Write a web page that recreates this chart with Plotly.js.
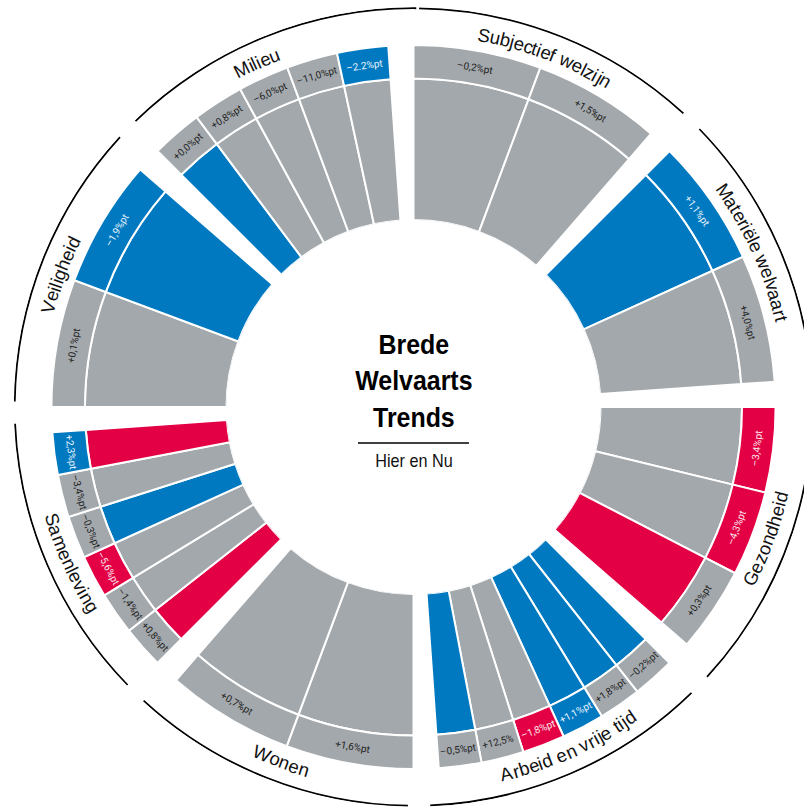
<!DOCTYPE html>
<html><head><meta charset="utf-8">
<script src="https://cdn.plot.ly/plotly-3.0.1.min.js"></script>
<style>html,body{margin:0;padding:0;overflow:hidden;background:#fff}#chart{width:827px;height:814px}</style>
</head><body><div id="chart"></div>
<script>
// ---------------- data ----------------
const categories = ["Subjectief welzijn","Materiële welvaart","Gezondheid","Arbeid en vrije tijd","Wonen","Samenleving","Veiligheid","Milieu"];
const barsPerCategory = [2,2,3,6,2,6,2,5];
// colour of the inner wedge (trend) per indicator, clockwise
const wedgeStatus = [
  "grijs","grijs",
  "blauw","grijs",
  "grijs","grijs","rood",
  "blauw","blauw","blauw","grijs","grijs","blauw",
  "grijs","grijs",
  "rood","grijs","grijs","blauw","grijs","rood",
  "grijs","blauw",
  "blauw","grijs","grijs","grijs","grijs"
];
// colour of the outer cell per indicator
const cellStatus = [
  "grijs","grijs",
  "blauw","grijs",
  "rood","rood","grijs",
  "grijs","grijs","blauw","rood","grijs","grijs",
  "grijs","grijs",
  "grijs","grijs","rood","grijs","grijs","blauw",
  "grijs","blauw",
  "grijs","grijs","grijs","grijs","blauw"
];
const cellLabels = [
  "–0,2%pt","+1,5%pt",
  "+1,1%pt","+4,0%pt",
  "–3,4%pt","–4,3%pt","+0,3%pt",
  "–0,2%pt","+1,8%pt","+1,1%pt","–1,8%pt","+12,5%","–0,5%pt",
  "+1,6%pt","+0,7%pt",
  "+0,8%pt","–1,4%pt","–5,6%pt","–0,3%pt","–3,4%pt","+2,3%pt",
  "+0,1%pt","–1,9%pt",
  "+0,0%pt","+0,8%pt","–6,0%pt","–11,0%pt","–2.2%pt"
];
const wedgeLength = [100,100, 100,100, 100,100,100, 100,100,100,100,100,100, 100,100, 100,100,100,100,100,100, 100,100, 100,100,100,100,100];
const centerTitle = ["Brede","Welvaarts","Trends"];
const centerSubtitle = "Hier en Nu";

// ---------------- styling / geometry ----------------
const COLORS = {blauw:"#0079C1", grijs:"#A3A8AC", rood:"#E30044"};
const TEXTCOL = {blauw:"#e8f2fa", grijs:"#1e1e1e", rood:"#fde8ee"};
const PLOT_W = 827, PLOT_H = 800, MARG = 7;
const RADIUS_PX = 400, HOLE_PX = 187;
const R_MAX = 150.5;
const CELL_DEPTH = 23.7;
const RING_BASE = 149.0, RING_W = 1.25;
const LABEL_R = 135.2, CELL_LABEL_R = 100 + CELL_DEPTH/2;
const SECTOR_SPAN = 41;
const N = categories.length;

let thetas = [], widths = [], catOf = [];
barsPerCategory.forEach((n,k)=>{
  const start = k*360/N, w = SECTOR_SPAN/n;
  for(let i=0;i<n;i++){ thetas.push(start+(i+0.5)*w); widths.push(w); catOf.push(k); }
});

function rpx(r){ return HOLE_PX + r/R_MAX*(RADIUS_PX-HOLE_PX); }
function toPaper(r,th){ const p=rpx(r), a=th*Math.PI/180; return {x:0.5+p*Math.sin(a)/PLOT_W, y:0.5+p*Math.cos(a)/PLOT_H}; }
function norm(th){ return ((th%360)+360)%360; }
function upright(th){ th=norm(th); if(th>90&&th<270) return th-180; if(th>=270) return th-360; return th; }

// outer arcs: each category arc, the last one closes up to the top
const arcStart = categories.map((c,k)=>k*360/N + 0.8);
const arcEnd = categories.map((c,k)=> k===N-1 ? 360.4 : k*360/N + 42.6);

const traces = [];
traces.push({type:'barpolar', theta:thetas, width:widths, r:wedgeLength, base:0,
  marker:{color:wedgeStatus.map(s=>COLORS[s]), line:{color:'#ffffff', width:2}}, hoverinfo:'skip'});
traces.push({type:'barpolar', theta:thetas, width:widths, r:wedgeLength.map(()=>CELL_DEPTH), base:wedgeLength,
  marker:{color:cellStatus.map(s=>COLORS[s]), line:{color:'#ffffff', width:2}}, hoverinfo:'skip'});
traces.push({type:'barpolar', theta:arcStart.map((s,k)=>(s+arcEnd[k])/2), width:arcStart.map((s,k)=>arcEnd[k]-s),
  r:categories.map(()=>RING_W), base:RING_BASE, marker:{color:'#000', line:{width:0}}, hoverinfo:'skip'});

const annotations = [];
cellLabels.forEach((t,i)=>{
  const p = toPaper(CELL_LABEL_R, thetas[i]);
  annotations.push({xref:'paper', yref:'paper', x:p.x, y:p.y, text:t, showarrow:false,
    xanchor:'center', yanchor:'middle', textangle:upright(thetas[i]),
    font:{family:'Roboto, Liberation Sans, sans-serif', size:10, color:TEXTCOL[cellStatus[i]]}});
});
// curved category labels, one glyph at a time
const LABEL_FONT = 18.5;
const ctx = document.createElement('canvas').getContext('2d');
ctx.font = LABEL_FONT+'px "Liberation Sans"';
categories.forEach((c,k)=>{
  const thc = k*360/N + SECTOR_SPAN/2;
  const bottom = norm(thc)>90 && norm(thc)<270;
  const chars = Array.from(c);
  const ws = chars.map(ch=>ctx.measureText(ch).width);
  const total = ws.reduce((a,b)=>a+b,0);
  const rp = rpx(LABEL_R);
  let cum = 0;
  chars.forEach((ch,i)=>{
    const s = cum + ws[i]/2 - total/2; cum += ws[i];
    if(ch===' ') return;
    const d = s/rp*180/Math.PI;
    const th = bottom ? thc - d : thc + d;
    const p = toPaper(LABEL_R, th);
    annotations.push({xref:'paper', yref:'paper', x:p.x, y:p.y, text:ch, showarrow:false,
      xanchor:'center', yanchor:'middle', textangle:upright(th),
      font:{family:'Liberation Sans, Arial, sans-serif', size:LABEL_FONT, color:'#111'}});
  });
});
const titleIndex = annotations.length;
annotations.push({xref:'paper', yref:'paper', x:0.5, y:0.5+(407-381)/PLOT_H, text:centerTitle.join('<br>'),
  showarrow:false, xanchor:'center', yanchor:'middle',
  font:{family:'Liberation Sans, Arial, sans-serif', size:28, color:'#000', weight:700}});
const subIndex = annotations.length;
annotations.push({xref:'paper', yref:'paper', x:0.5, y:0.5+(407-461)/PLOT_H, text:centerSubtitle,
  showarrow:false, xanchor:'center', yanchor:'middle',
  font:{family:'Liberation Sans, Arial, sans-serif', size:18, color:'#111'}});

const layout = {
  width:PLOT_W, height:PLOT_H+2*MARG, margin:{l:0,r:0,t:MARG,b:MARG,pad:0},
  paper_bgcolor:'#fff', showlegend:false,
  polar:{domain:{x:[0,1],y:[0,1]}, hole:HOLE_PX/RADIUS_PX, bgcolor:'rgba(0,0,0,0)', barmode:'overlay',
    radialaxis:{range:[0,R_MAX], visible:false, showgrid:false, showline:false},
    angularaxis:{rotation:90, direction:'clockwise', visible:false, showgrid:false, showline:false}},
  annotations:annotations,
  shapes:[{type:'line', xref:'paper', yref:'paper', x0:0.5-55.5/PLOT_W, x1:0.5+55.5/PLOT_W,
    y0:0.5+(407-443)/PLOT_H, y1:0.5+(407-443)/PLOT_H, line:{color:'#000', width:1.5}}]
};
Plotly.newPlot('chart', traces, layout, {displayModeBar:false, staticPlot:true}).then(gd=>{
  // condensed look for the centre texts
  [[titleIndex,0.89],[subIndex,0.9]].forEach(([idx,sx])=>{
    const g = gd.querySelector('.annotation[data-index="'+idx+'"] text.annotation-text');
    if(!g) return;
    const bb = g.getBBox(); const cx = bb.x + bb.width/2;
    g.setAttribute('transform','translate('+cx+',0) scale('+sx+',1) translate('+(-cx)+',0)');
  });
});
</script></body></html>
